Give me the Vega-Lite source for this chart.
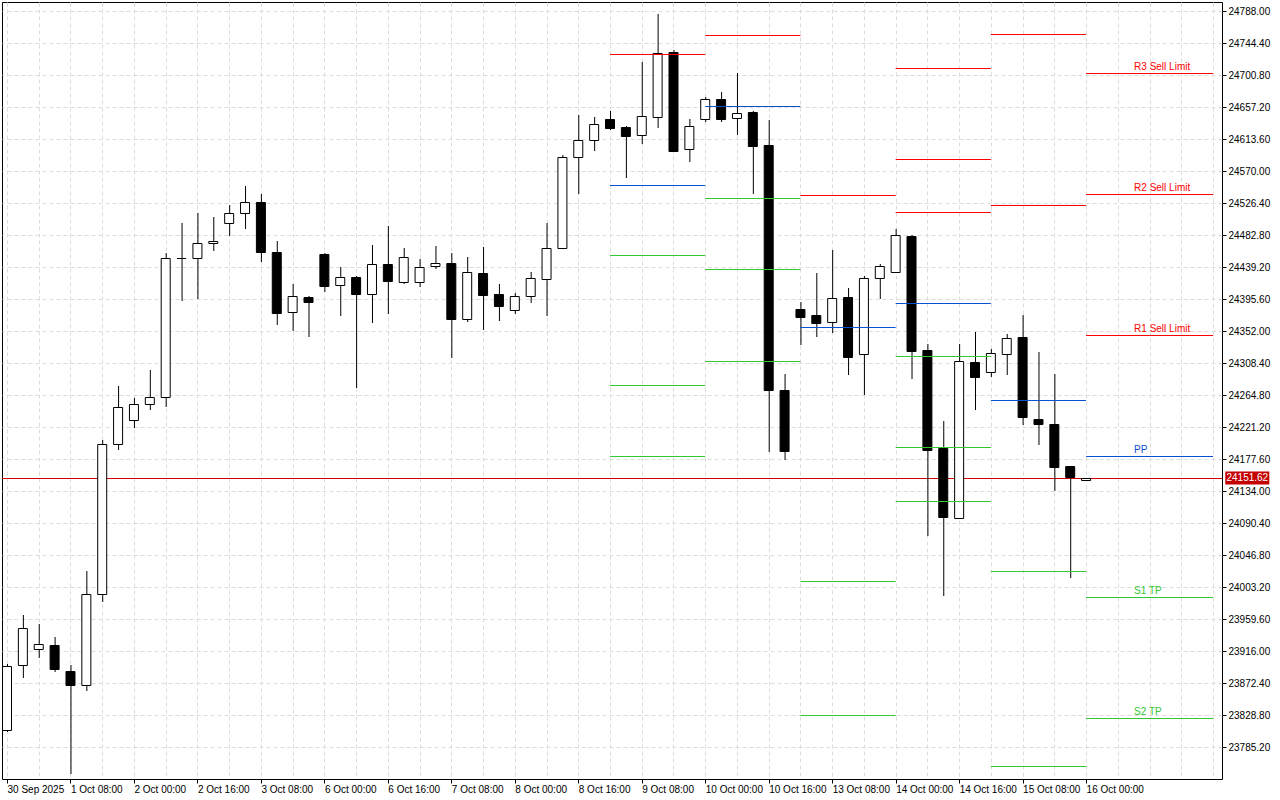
{
  "$schema": "https://vega.github.io/schema/vega-lite/v6.json",
  "width": 1220,
  "height": 777,
  "autosize": {"type": "none"},
  "padding": {"left": 2, "top": 2, "right": 58, "bottom": 21},
  "background": "white",
  "config": {
    "font": "Liberation Sans",
    "view": {"stroke": "#000000", "strokeWidth": 1},
    "axis": {"labelFont": "Liberation Sans", "labelFontSize": 10, "labelColor": "#000000", "tickColor": "#000000", "gridColor": "#dcdcdc", "gridDash": [4, 3], "gridWidth": 1, "domain": false, "labelOverlap": false, "labelBound": false}
  },
  "datasets": {
    "candles": [
      {"i":0,"o":23808.4,"h":23898.3,"l":23805.6,"c":23895.6},
      {"i":1,"o":23896.9,"h":23965.1,"l":23879.2,"c":23947.3},
      {"i":2,"o":23918.7,"h":23952.8,"l":23906.5,"c":23925.5},
      {"i":3,"o":23924.2,"h":23935.1,"l":23887.4,"c":23891.5},
      {"i":4,"o":23888.8,"h":23896.9,"l":23748.4,"c":23869.7},
      {"i":5,"o":23869.7,"h":24025.0,"l":23861.5,"c":23993.7},
      {"i":6,"o":23993.7,"h":24203.5,"l":23982.8,"c":24198.0},
      {"i":7,"o":24198.0,"h":24277.1,"l":24189.9,"c":24248.5},
      {"i":8,"o":24230.7,"h":24260.7,"l":24219.8,"c":24252.5},
      {"i":9,"o":24252.5,"h":24298.9,"l":24244.4,"c":24262.1},
      {"i":10,"o":24262.1,"h":24458.3,"l":24248.5,"c":24451.5},
      {"i":11,"o":24450.8,"h":24499.2,"l":24392.9,"c":24451.5},
      {"i":12,"o":24451.5,"h":24512.8,"l":24395.6,"c":24471.9},
      {"i":13,"o":24471.9,"h":24507.3,"l":24461.0,"c":24474.6},
      {"i":14,"o":24499.2,"h":24523.7,"l":24481.4,"c":24512.8},
      {"i":15,"o":24512.8,"h":24549.6,"l":24491.0,"c":24527.8},
      {"i":16,"o":24527.8,"h":24538.7,"l":24446.0,"c":24459.6},
      {"i":17,"o":24459.6,"h":24474.6,"l":24360.2,"c":24376.5},
      {"i":18,"o":24377.9,"h":24416.0,"l":24352.0,"c":24399.7},
      {"i":19,"o":24398.3,"h":24399.7,"l":24343.8,"c":24391.5},
      {"i":20,"o":24456.9,"h":24458.3,"l":24405.1,"c":24413.3},
      {"i":21,"o":24414.7,"h":24439.2,"l":24372.4,"c":24425.6},
      {"i":22,"o":24425.6,"h":24426.9,"l":24274.3,"c":24402.4},
      {"i":23,"o":24402.4,"h":24469.2,"l":24362.9,"c":24443.3},
      {"i":24,"o":24443.3,"h":24495.1,"l":24375.2,"c":24420.1},
      {"i":25,"o":24418.8,"h":24465.1,"l":24416.0,"c":24452.8},
      {"i":26,"o":24418.8,"h":24450.1,"l":24412.0,"c":24439.2},
      {"i":27,"o":24440.6,"h":24467.8,"l":24436.5,"c":24444.7},
      {"i":28,"o":24444.7,"h":24458.3,"l":24315.2,"c":24368.4},
      {"i":29,"o":24368.4,"h":24452.8,"l":24364.3,"c":24432.4},
      {"i":30,"o":24431.0,"h":24466.5,"l":24353.4,"c":24401.1},
      {"i":31,"o":24402.4,"h":24416.0,"l":24365.6,"c":24386.1},
      {"i":32,"o":24380.6,"h":24403.8,"l":24375.2,"c":24399.7},
      {"i":33,"o":24399.7,"h":24432.4,"l":24390.2,"c":24424.2},
      {"i":34,"o":24422.9,"h":24499.2,"l":24372.4,"c":24465.1},
      {"i":35,"o":24465.1,"h":24591.8,"l":24463.7,"c":24589.1},
      {"i":36,"o":24589.1,"h":24646.3,"l":24538.7,"c":24612.2},
      {"i":37,"o":24612.2,"h":24643.6,"l":24597.3,"c":24634.0},
      {"i":38,"o":24640.9,"h":24651.8,"l":24625.9,"c":24628.6},
      {"i":39,"o":24630.0,"h":24631.3,"l":24560.5,"c":24617.7},
      {"i":40,"o":24619.1,"h":24718.5,"l":24606.8,"c":24644.9},
      {"i":41,"o":24643.6,"h":24783.9,"l":24628.6,"c":24730.8},
      {"i":42,"o":24732.1,"h":24734.9,"l":24595.9,"c":24597.3},
      {"i":43,"o":24600.0,"h":24640.9,"l":24582.3,"c":24631.3},
      {"i":44,"o":24640.9,"h":24670.8,"l":24636.8,"c":24668.1},
      {"i":45,"o":24668.1,"h":24677.6,"l":24636.8,"c":24640.9},
      {"i":46,"o":24642.2,"h":24703.5,"l":24619.1,"c":24649.0},
      {"i":47,"o":24650.4,"h":24651.8,"l":24538.7,"c":24604.1},
      {"i":48,"o":24605.4,"h":24639.5,"l":24187.1,"c":24271.6},
      {"i":49,"o":24271.6,"h":24293.4,"l":24176.2,"c":24188.5},
      {"i":50,"o":24382.0,"h":24391.5,"l":24332.9,"c":24371.1},
      {"i":51,"o":24373.8,"h":24431.0,"l":24343.8,"c":24362.9},
      {"i":52,"o":24364.3,"h":24462.4,"l":24349.3,"c":24397.0},
      {"i":53,"o":24398.3,"h":24410.6,"l":24292.1,"c":24316.6},
      {"i":54,"o":24320.7,"h":24426.9,"l":24264.8,"c":24424.2},
      {"i":55,"o":24424.2,"h":24443.3,"l":24395.6,"c":24440.6},
      {"i":56,"o":24432.4,"h":24491.0,"l":24431.0,"c":24482.8},
      {"i":57,"o":24481.4,"h":24482.8,"l":24286.6,"c":24324.8},
      {"i":58,"o":24326.1,"h":24334.3,"l":24072.7,"c":24189.9},
      {"i":59,"o":24192.6,"h":24229.4,"l":23990.9,"c":24098.6},
      {"i":60,"o":24097.2,"h":24334.3,"l":24095.9,"c":24311.1},
      {"i":61,"o":24309.8,"h":24350.6,"l":24244.4,"c":24289.3},
      {"i":62,"o":24296.1,"h":24327.5,"l":24289.3,"c":24322.0},
      {"i":63,"o":24320.7,"h":24347.9,"l":24292.1,"c":24342.5},
      {"i":64,"o":24343.8,"h":24373.8,"l":24223.9,"c":24234.8},
      {"i":65,"o":24232.1,"h":24323.4,"l":24196.7,"c":24225.3},
      {"i":66,"o":24225.3,"h":24293.4,"l":24134.0,"c":24166.7},
      {"i":67,"o":24168.1,"h":24168.1,"l":24015.5,"c":24153.1},
      {"i":68,"o":24149.0,"h":24152.3,"l":24148.5,"c":24151.62}
    ],
    "pivots": [
      {"day":"9 Oct","name":"R1","kind":"R","price":24729.4,"i0":38,"i1":44,"label":""},
      {"day":"9 Oct","name":"PP","kind":"PP","price":24550.9,"i0":38,"i1":44,"label":""},
      {"day":"9 Oct","name":"S1","kind":"S","price":24455.6,"i0":38,"i1":44,"label":""},
      {"day":"9 Oct","name":"S2","kind":"S","price":24278.4,"i0":38,"i1":44,"label":""},
      {"day":"9 Oct","name":"S3","kind":"S","price":24181.7,"i0":38,"i1":44,"label":""},
      {"day":"10 Oct","name":"R1","kind":"R","price":24755.3,"i0":44,"i1":50,"label":""},
      {"day":"10 Oct","name":"PP","kind":"PP","price":24658.6,"i0":44,"i1":50,"label":""},
      {"day":"10 Oct","name":"S1","kind":"S","price":24533.2,"i0":44,"i1":50,"label":""},
      {"day":"10 Oct","name":"S2","kind":"S","price":24436.5,"i0":44,"i1":50,"label":""},
      {"day":"10 Oct","name":"S3","kind":"S","price":24311.1,"i0":44,"i1":50,"label":""},
      {"day":"13 Oct","name":"R1","kind":"R","price":24537.3,"i0":50,"i1":56,"label":""},
      {"day":"13 Oct","name":"PP","kind":"PP","price":24357.5,"i0":50,"i1":56,"label":""},
      {"day":"13 Oct","name":"S1","kind":"S","price":24011.4,"i0":50,"i1":56,"label":""},
      {"day":"13 Oct","name":"S2","kind":"S","price":23828.8,"i0":50,"i1":56,"label":""},
      {"day":"14 Oct","name":"R3","kind":"R","price":24710.3,"i0":56,"i1":62,"label":""},
      {"day":"14 Oct","name":"R2","kind":"R","price":24586.4,"i0":56,"i1":62,"label":""},
      {"day":"14 Oct","name":"R1","kind":"R","price":24514.1,"i0":56,"i1":62,"label":""},
      {"day":"14 Oct","name":"PP","kind":"PP","price":24390.2,"i0":56,"i1":62,"label":""},
      {"day":"14 Oct","name":"S1","kind":"S","price":24317.9,"i0":56,"i1":62,"label":""},
      {"day":"14 Oct","name":"S2","kind":"S","price":24194.0,"i0":56,"i1":62,"label":""},
      {"day":"14 Oct","name":"S3","kind":"S","price":24120.4,"i0":56,"i1":62,"label":""},
      {"day":"15 Oct","name":"R2","kind":"R","price":24756.7,"i0":62,"i1":68,"label":""},
      {"day":"15 Oct","name":"R1","kind":"R","price":24523.7,"i0":62,"i1":68,"label":""},
      {"day":"15 Oct","name":"PP","kind":"PP","price":24258.0,"i0":62,"i1":68,"label":""},
      {"day":"15 Oct","name":"S1","kind":"S","price":24025.0,"i0":62,"i1":68,"label":""},
      {"day":"15 Oct","name":"S2","kind":"S","price":23759.3,"i0":62,"i1":68,"label":""},
      {"day":"16 Oct","name":"R3","kind":"R","price":24703.5,"i0":68,"i1":76,"label":"R3 Sell Limit"},
      {"day":"16 Oct","name":"R2","kind":"R","price":24538.7,"i0":68,"i1":76,"label":"R2 Sell Limit"},
      {"day":"16 Oct","name":"R1","kind":"R","price":24346.6,"i0":68,"i1":76,"label":"R1 Sell Limit"},
      {"day":"16 Oct","name":"PP","kind":"PP","price":24181.7,"i0":68,"i1":76,"label":"PP"},
      {"day":"16 Oct","name":"S1","kind":"S","price":23989.6,"i0":68,"i1":76,"label":"S1 TP"},
      {"day":"16 Oct","name":"S2","kind":"S","price":23824.7,"i0":68,"i1":76,"label":"S2 TP"}
    ],
    "current": [{"price": 24151.62, "label": "24151.62"}]
  },
  "layer": [
    {
      "data": {"name": "current"},
      "mark": {"type": "rule", "color": "#d00000", "strokeWidth": 1, "yOffset": 0.5, "y2Offset": 0.5},
      "encoding": {
        "y": {
          "field": "price", "type": "quantitative", "title": null,
          "scale": {"domain": [23741.6, 24800.265], "nice": false, "zero": false, "round": true},
          "axis": {
            "orient": "right", "grid": true, "format": ".2f", "tickSize": 4, "labelPadding": 2, "tickCount": 60,
            "labelOverlap": false, "labelBound": false, "labelFlush": false,
            "values": [23785.2, 23828.8, 23872.4, 23916.0, 23959.6, 24003.2, 24046.8, 24090.4, 24134.0, 24177.6, 24221.2, 24264.8, 24308.4, 24352.0, 24395.6, 24439.2, 24482.8, 24526.4, 24570.0, 24613.6, 24657.2, 24700.8, 24744.4, 24788.0]
          }
        }
      }
    },
    {
      "data": {"name": "candles"},
      "mark": {"type": "rule", "color": "#000000", "strokeWidth": 1, "clip": true, "xOffset": 0.5},
      "encoding": {
        "x": {
          "field": "i", "type": "quantitative", "title": null,
          "scale": {"domain": [0, 76.25], "nice": false, "zero": false},
          "axis": {
            "orient": "bottom", "grid": true, "tickSize": 4, "labelPadding": 1, "tickCount": 80,
            "labelAlign": "left", "labelBaseline": "top", "labelOverlap": false, "labelBound": false, "labelFlush": false,
            "values": [0,2,4,6,8,10,12,14,16,18,20,22,24,26,28,30,32,34,36,38,40,42,44,46,48,50,52,54,56,58,60,62,64,66,68,70,72,74,76],
            "tickOpacity": {"condition": {"test": "datum.value % 4 !== 0 || datum.value > 68", "value": 0}, "value": 1},
            "labelExpr": "(datum.value % 4 === 0 && datum.value <= 68) ? ['30 Sep 2025','1 Oct 08:00','2 Oct 00:00','2 Oct 16:00','3 Oct 08:00','6 Oct 00:00','6 Oct 16:00','7 Oct 08:00','8 Oct 00:00','8 Oct 16:00','9 Oct 08:00','10 Oct 00:00','10 Oct 16:00','13 Oct 08:00','14 Oct 00:00','14 Oct 16:00','15 Oct 08:00','16 Oct 00:00'][datum.value / 4] : ''"
          }
        },
        "y": {"field": "l", "type": "quantitative", "title": null},
        "y2": {"field": "h"}
      }
    },
    {
      "data": {"name": "candles"},
      "mark": {"type": "bar", "width": 9, "stroke": "#000000", "strokeWidth": 1, "clip": true, "yOffset": 0.5, "y2Offset": 0.5},
      "encoding": {
        "x": {"field": "i", "type": "quantitative", "title": null},
        "y": {"field": "o", "type": "quantitative", "title": null},
        "y2": {"field": "c"},
        "fill": {"condition": {"test": "datum.c >= datum.o", "value": "#ffffff"}, "value": "#000000"}
      }
    },
    {
      "data": {"name": "pivots"},
      "mark": {"type": "rule", "strokeWidth": 1, "clip": true, "yOffset": 0.5, "y2Offset": 0.5},
      "encoding": {
        "x": {"field": "i0", "type": "quantitative", "title": null},
        "x2": {"field": "i1"},
        "y": {"field": "price", "type": "quantitative", "title": null},
        "color": {"field": "kind", "type": "nominal", "legend": null, "scale": {"domain": ["R", "PP", "S"], "range": ["#ff0000", "#0a50d2", "#32c832"]}}
      }
    },
    {
      "data": {"name": "pivots"},
      "transform": [{"filter": "datum.label != ''"}],
      "mark": {"type": "text", "align": "left", "baseline": "alphabetic", "dx": 48, "dy": -3, "fontSize": 10, "font": "Liberation Sans"},
      "encoding": {
        "x": {"field": "i0", "type": "quantitative", "title": null},
        "y": {"field": "price", "type": "quantitative", "title": null},
        "text": {"field": "label"},
        "color": {"field": "kind", "type": "nominal", "legend": null}
      }
    },
    {
      "data": {"name": "current"},
      "mark": {"type": "point", "filled": true, "shape": "M-1,-0.3L1,-0.3L1,0.3L-1,0.3Z", "size": 1936, "color": "#c40000", "opacity": 1, "x": {"expr": "width + 25.3"}, "clip": false},
      "encoding": {
        "y": {"field": "price", "type": "quantitative", "title": null}
      }
    },
    {
      "data": {"name": "current"},
      "mark": {"type": "text", "align": "center", "baseline": "middle", "color": "#ffffff", "fontSize": 10, "font": "Liberation Sans", "x": {"expr": "width + 25.3"}, "clip": false},
      "encoding": {
        "y": {"field": "price", "type": "quantitative", "title": null},
        "text": {"field": "label"}
      }
    }
  ]
}
